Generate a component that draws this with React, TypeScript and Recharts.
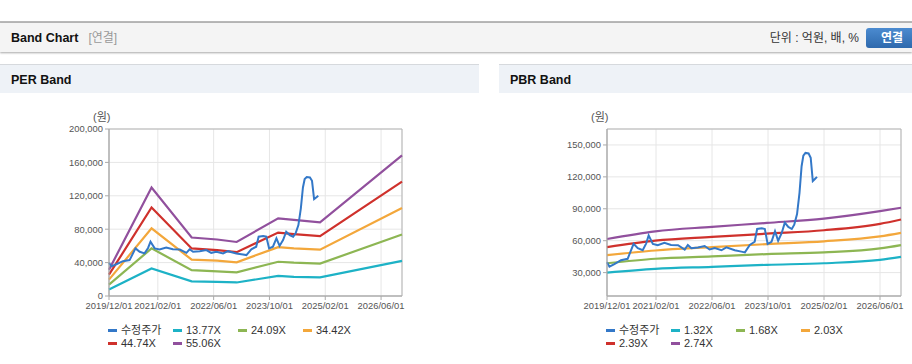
import React from 'react';
import { LineChart, Line, XAxis, YAxis, CartesianGrid, ReferenceArea } from 'recharts';

// ---------- shared x axis (month index from 2019/12) ----------
const xTickMonths = [0, 14, 30, 46, 62, 78];
const xTickLabels = ['2019/12/01', '2021/02/01', '2022/06/01', '2023/10/01', '2025/02/01', '2026/06/01'];

// ---------- adjusted price (수정주가) ----------
const priceT = [0, 0.7, 2.1, 4, 5.9, 7.6, 8.8, 10.2, 11.2, 11.9, 13.1, 14.5, 16.4, 18.3, 20.3, 22.2, 23.1, 24.1, 26, 27.9, 29.3, 30.8, 32.7, 34.1, 36.5, 38.4, 39.4, 40.8, 42.2, 42.9, 44.2, 45.1, 45.9, 47, 48, 48.9, 49.9, 50.8, 51.8, 52.8, 53.5, 54.3, 55.0, 55.6, 56.1, 56.7, 57.6, 58.2, 58.8, 59.4, 60];
const priceV = [39700, 35500, 38000, 41700, 43000, 57000, 53000, 51000, 57500, 65000, 57000, 55700, 58000, 56000, 55700, 51700, 56000, 53000, 53700, 55000, 51700, 53000, 51000, 53700, 51000, 49700, 49000, 56000, 59000, 71000, 71700, 71000, 57000, 59000, 69000, 60000, 67000, 77000, 73000, 71000, 75000, 85000, 105000, 130000, 140000, 142500, 142000, 138000, 116000, 118000, 120000];

// ---------- PER bands ----------
const perT = [0, 12.2, 23.7, 31, 36.6, 48.5, 53, 60.5, 84];
const per1377 = [7800, 33000, 17600, 16900, 16200, 24000, 22800, 22300, 42100];
const per2409 = [13700, 57000, 31000, 29600, 28300, 41000, 39900, 38800, 73700];
const per3442 = [19600, 81000, 43500, 42300, 40400, 58500, 57000, 55500, 105300];
const per4474 = [25500, 106000, 57000, 55000, 52500, 76000, 74000, 71800, 136900];
const per5506 = [31400, 130000, 70000, 67700, 64700, 93000, 91100, 88300, 168500];
const perYTicks = [0, 40000, 80000, 120000, 160000, 200000];
const perYDomain: [number, number] = [0, 200000];

// ---------- PBR bands ----------
const pbrT = [0, 13.8, 30, 45.7, 62, 78, 84];
const pbr132 = [30000, 33500, 35400, 37300, 38800, 42000, 44800];
const pbr168 = [38800, 43000, 45200, 47400, 49000, 52700, 55900];
const pbr203 = [46400, 50800, 54000, 56800, 59400, 64000, 67300];
const pbr239 = [54000, 60000, 63500, 66600, 69800, 75800, 79900];
const pbr274 = [61600, 68800, 73000, 76700, 80800, 87800, 91000];
const pbrYTicks = [30000, 60000, 90000, 120000, 150000];
const pbrYDomain: [number, number] = [8000, 165000];

const priceName = '수정주가';
const perNames = ['13.77X', '24.09X', '34.42X', '44.74X', '55.06X'];
const pbrNames = ['1.32X', '1.68X', '2.03X', '2.39X', '2.74X'];
const colors = ['#1db2c6', '#8db653', '#f3a73b', '#cf312c', '#91509d'];
const priceColor = '#3378c8';

const toSeries = (t: number[], v: number[]) => t.map((x, i) => ({ t: x, v: v[i] }));
const priceData = toSeries(priceT, priceV);

const TICK_FONT = '"Liberation Sans", Arial, sans-serif';
const UI_FONT = '"Liberation Sans", Arial, "Noto Sans CJK KR", sans-serif';

type BandProps = {
  left: number;
  width: number;
  yAxisWidth: number;
  marginRight: number;
  yDomain: [number, number];
  yTicks: number[];
  bandT: number[];
  bands: number[][];
  names: string[];
  curve: 'linear' | 'monotone';
};

function BandChart(p: BandProps) {
  const tickStyle = { fontSize: 9.4, fill: '#555', fontFamily: TICK_FONT };
  const plotLeft = p.left + p.yAxisWidth;
  const items = [{ name: priceName, color: priceColor }].concat(
    p.names.map((n, i) => ({ name: n, color: colors[i] }))
  );
  return (
    <>
      <div style={{ position: 'absolute', left: p.left, top: 100 }}>
        <LineChart
          width={p.width}
          height={216}
          margin={{ top: 29, right: p.marginRight, bottom: 0, left: 0 }}
        >
          <CartesianGrid stroke="#e6e6e6" strokeWidth={1} />
          <XAxis
            dataKey="t"
            type="number"
            domain={[0, 84]}
            ticks={xTickMonths}
            interval={0}
            tickFormatter={(v: number) => xTickLabels[xTickMonths.indexOf(v)] ?? ''}
            height={20}
            tick={tickStyle}
            tickSize={4}
            tickMargin={2}
            axisLine={{ stroke: '#aaa' }}
            tickLine={{ stroke: '#aaa' }}
            allowDuplicatedCategory={false}
          />
          <YAxis
            type="number"
            domain={p.yDomain}
            ticks={p.yTicks}
            interval={0}
            width={p.yAxisWidth}
            tick={tickStyle}
            tickSize={4}
            tickMargin={2}
            axisLine={{ stroke: '#aaa' }}
            tickLine={{ stroke: '#aaa' }}
            tickFormatter={(v: number) => v.toLocaleString('en-US')}
            allowDataOverflow
          />
          <ReferenceArea
            x1={0}
            x2={84}
            y1={p.yDomain[0]}
            y2={p.yDomain[1]}
            fill="none"
            stroke="#b5b5b5"
            strokeWidth={1}
          />
          {p.bands.map((b, i) => (
            <Line
              key={p.names[i]}
              data={toSeries(p.bandT, b)}
              dataKey="v"
              type={p.curve}
              stroke={colors[i]}
              strokeWidth={2.2}
              dot={false}
              activeDot={false}
              isAnimationActive={false}
            />
          ))}
          <Line
            data={priceData}
            dataKey="v"
            type="linear"
            stroke={priceColor}
            strokeWidth={2}
            dot={false}
            activeDot={false}
            isAnimationActive={false}
          />
        </LineChart>
      </div>
      <div
        style={{
          position: 'absolute',
          left: plotLeft - 16,
          top: 110,
          fontSize: 11,
          color: '#555',
          fontFamily: UI_FONT,
          lineHeight: '14px',
        }}
      >
        (원)
      </div>
      <div
        style={{
          position: 'absolute',
          left: plotLeft - 1,
          top: 324,
          width: 270,
          display: 'flex',
          flexWrap: 'wrap',
          fontFamily: UI_FONT,
          fontSize: 11,
          color: '#333',
        }}
      >
        {items.map((it) => (
          <div
            key={it.name}
            style={{ width: 65, height: 13, display: 'flex', alignItems: 'center', lineHeight: '13px' }}
          >
            <span
              style={{ display: 'inline-block', width: 9, height: 2.5, background: it.color, marginRight: 4 }}
            />
            <span>{it.name}</span>
          </div>
        ))}
      </div>
    </>
  );
}

export default function App() {
  return (
    <div
      style={{
        position: 'absolute',
        left: 0,
        top: 0,
        width: 912,
        height: 364,
        overflow: 'hidden',
        background: '#fff',
        fontFamily: UI_FONT,
      }}
    >
      {/* header */}
      <div style={{ position: 'absolute', left: 0, top: 21, width: 912, height: 2, background: '#b8b8b8' }} />
      <div
        style={{
          position: 'absolute',
          left: 0,
          top: 23,
          width: 912,
          height: 29,
          background: '#f4f4f4',
          boxShadow: '0 1px 2px rgba(0,0,0,0.35)',
        }}
      />
      <div
        style={{
          position: 'absolute',
          left: 11,
          top: 30,
          fontSize: 12.5,
          fontWeight: 'bold',
          color: '#111',
          lineHeight: '16px',
          whiteSpace: 'nowrap',
        }}
      >
        Band Chart
        <span style={{ fontWeight: 'normal', color: '#999', fontSize: 12, marginLeft: 10 }}>[연결]</span>
      </div>
      <div
        style={{
          position: 'absolute',
          right: 53,
          top: 30,
          fontSize: 12,
          color: '#333',
          lineHeight: '16px',
          whiteSpace: 'nowrap',
        }}
      >
        단위 : 억원, 배, %
      </div>
      <div
        style={{
          position: 'absolute',
          left: 866,
          top: 28,
          width: 52,
          height: 20,
          borderRadius: 3,
          background: 'linear-gradient(#4b8bd0, #2e69ad)',
          color: '#fff',
          fontWeight: 'bold',
          fontSize: 12,
          lineHeight: '20px',
          textAlign: 'center',
        }}
      >
        연결
      </div>

      {/* panel title bars */}
      <div
        style={{
          position: 'absolute',
          left: 0,
          top: 64,
          width: 479,
          height: 28,
          background: '#eef2f7',
          borderTop: '1px solid #d6d9dd',
        }}
      />
      <div
        style={{
          position: 'absolute',
          left: 499,
          top: 64,
          width: 413,
          height: 28,
          background: '#eef2f7',
          borderTop: '1px solid #d6d9dd',
        }}
      />
      <div style={{ position: 'absolute', left: 11, top: 72, fontSize: 12.5, fontWeight: 'bold', color: '#111', lineHeight: '16px' }}>
        PER Band
      </div>
      <div style={{ position: 'absolute', left: 510, top: 72, fontSize: 12.5, fontWeight: 'bold', color: '#111', lineHeight: '16px' }}>
        PBR Band
      </div>

      <BandChart
        left={0}
        width={480}
        yAxisWidth={109}
        marginRight={78}
        yDomain={perYDomain}
        yTicks={perYTicks}
        bandT={perT}
        bands={[per1377, per2409, per3442, per4474, per5506]}
        names={perNames}
        curve="linear"
      />
      <BandChart
        left={499}
        width={413}
        yAxisWidth={108}
        marginRight={11}
        yDomain={pbrYDomain}
        yTicks={pbrYTicks}
        bandT={pbrT}
        bands={[pbr132, pbr168, pbr203, pbr239, pbr274]}
        names={pbrNames}
        curve="monotone"
      />
    </div>
  );
}
